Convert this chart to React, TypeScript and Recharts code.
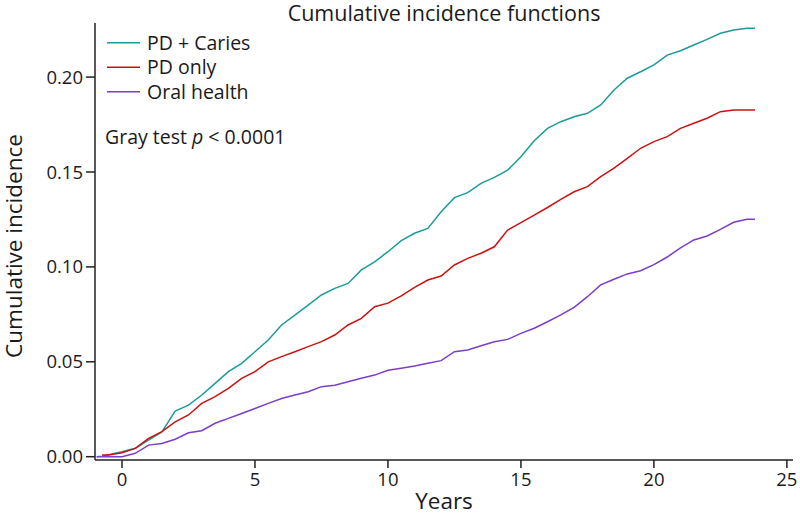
import React from "react";
import { LineChart, Line, XAxis, YAxis } from "recharts";

const TIMES = [-0.95, -0.75, -0.5, 0, 0.5, 1, 1.5, 2, 2.5, 3, 3.5, 4, 4.5, 5, 5.5, 6, 6.5, 7, 7.5, 8, 8.5, 9, 9.5, 10, 10.5, 11, 11.5, 12, 12.5, 13, 13.5, 14, 14.5, 15, 15.5, 16, 16.5, 17, 17.5, 18, 18.5, 19, 19.5, 20, 20.5, 21, 21.5, 22, 22.5, 23, 23.5, 23.8];

const PD_CARIES = [0, 0.0003, 0.001, 0.0026, 0.0044, 0.0088, 0.013, 0.024, 0.0272, 0.0325, 0.0386, 0.0448, 0.0492, 0.0553, 0.0615, 0.0694, 0.0746, 0.0799, 0.0852, 0.0887, 0.0913, 0.0984, 0.1027, 0.108, 0.1138, 0.1177, 0.1203, 0.129, 0.1365, 0.1391, 0.144, 0.1472, 0.151, 0.158, 0.1665, 0.173, 0.1765, 0.1791, 0.1809, 0.1853, 0.1932, 0.1994, 0.2028, 0.2064, 0.2116, 0.2139, 0.2169, 0.2199, 0.2231, 0.2248, 0.2257, 0.2257];

const PD_ONLY = [null, 0.0009, 0.0009, 0.0021, 0.0044, 0.0097, 0.0132, 0.0184, 0.022, 0.0281, 0.0316, 0.036, 0.0413, 0.0448, 0.05, 0.0527, 0.0553, 0.058, 0.0606, 0.0641, 0.0694, 0.0729, 0.079, 0.0809, 0.0847, 0.0892, 0.0931, 0.0952, 0.101, 0.1045, 0.1072, 0.1106, 0.1194, 0.1233, 0.1273, 0.1313, 0.1356, 0.1396, 0.1423, 0.1475, 0.152, 0.1572, 0.1625, 0.166, 0.1686, 0.173, 0.1757, 0.1783, 0.1818, 0.1827, 0.1827, 0.1827];

const ORAL_HEALTH = [0, 0, 0, 0, 0.0018, 0.0061, 0.007, 0.0092, 0.0126, 0.0137, 0.0176, 0.0202, 0.0228, 0.0254, 0.0281, 0.0307, 0.0325, 0.0342, 0.0369, 0.0377, 0.0395, 0.0413, 0.043, 0.0455, 0.0466, 0.0478, 0.0492, 0.0506, 0.0553, 0.0562, 0.0585, 0.0606, 0.0618, 0.065, 0.0677, 0.0711, 0.0747, 0.0787, 0.0843, 0.0905, 0.0935, 0.0963, 0.098, 0.1012, 0.1052, 0.11, 0.1142, 0.1163, 0.1198, 0.1235, 0.1251, 0.1251];

const SERIES_NAMES = ["PD + Caries", "PD only", "Oral health"];
const SERIES_KEYS = ["caries", "pdonly", "oral"];
const SERIES_COLORS = ["#1a9c9a", "#cc1111", "#7a3fc6"];

const X_TICKS = [0, 5, 10, 15, 20, 25];
const Y_TICKS = [0, 0.05, 0.1, 0.15, 0.2];

const TITLE = "Cumulative incidence functions";
const X_LABEL = "Years";
const Y_LABEL = "Cumulative incidence";

const data = TIMES.map((t, i) => ({
  t,
  caries: PD_CARIES[i],
  pdonly: PD_ONLY[i],
  oral: ORAL_HEALTH[i],
}));

const FONT = "'Open Sans', 'Noto Sans', sans-serif";
const AXIS_COLOR = "#222";
const TEXT_COLOR = "#1a1a1a";

export default function App() {
  return (
    <div style={{ position: "absolute", left: 0, top: 0, width: 800, height: 515, background: "#fff", fontFamily: FONT }}>
      <LineChart width={800} height={515} data={data} margin={{ top: 23, right: 7, left: 0, bottom: 0 }}>
        <XAxis
          dataKey="t"
          type="number"
          domain={[-1.015, 25.23]}
          allowDataOverflow
          ticks={X_TICKS}
          height={55}
          tickSize={8}
          tickMargin={5}
          stroke={AXIS_COLOR}
          strokeWidth={1.5}
          tick={{ fill: TEXT_COLOR, fontSize: 18.5, fontFamily: FONT }}
        />
        <YAxis
          type="number"
          domain={[-0.00174, 0.2285]}
          allowDataOverflow
          ticks={Y_TICKS}
          width={95}
          tickSize={9}
          tickMargin={3}
          stroke={AXIS_COLOR}
          strokeWidth={1.5}
          tickFormatter={(v: number) => v.toFixed(2)}
          tick={{ fill: TEXT_COLOR, fontSize: 18.5, fontFamily: FONT }}
        />
        {SERIES_KEYS.map((k, i) => (
          <Line
            key={k}
            dataKey={k}
            type="linear"
            stroke={SERIES_COLORS[i]}
            strokeWidth={1.5}
            dot={false}
            activeDot={false}
            isAnimationActive={false}
          />
        ))}
      </LineChart>
      <svg width={800} height={515} style={{ position: "absolute", left: 0, top: 0, pointerEvents: "none" }}>
        <text x={444} y={20.5} textAnchor="middle" fontSize={21.5} fill={TEXT_COLOR} fontFamily={FONT}>
          {TITLE}
        </text>
        <text x={444} y={509} textAnchor="middle" fontSize={22.5} fill={TEXT_COLOR} fontFamily={FONT}>
          {X_LABEL}
        </text>
        <text
          x={22}
          y={246}
          textAnchor="middle"
          fontSize={22.5}
          fill={TEXT_COLOR}
          fontFamily={FONT}
          transform="rotate(-90 22 246)"
        >
          {Y_LABEL}
        </text>
        {SERIES_NAMES.map((name, i) => {
          const yy = 42.7 + i * 24.5;
          return (
            <g key={name}>
              <line x1={107} x2={140} y1={yy} y2={yy} stroke={SERIES_COLORS[i]} strokeWidth={1.5} />
              <text x={147} y={yy + 7} fontSize={19.5} fill={TEXT_COLOR} fontFamily={FONT}>
                {name}
              </text>
            </g>
          );
        })}
        <text x={105} y={144} fontSize={19.5} fill={TEXT_COLOR} fontFamily={FONT}>
          Gray test <tspan fontStyle="italic">p</tspan> &lt; 0.0001
        </text>
      </svg>
    </div>
  );
}
